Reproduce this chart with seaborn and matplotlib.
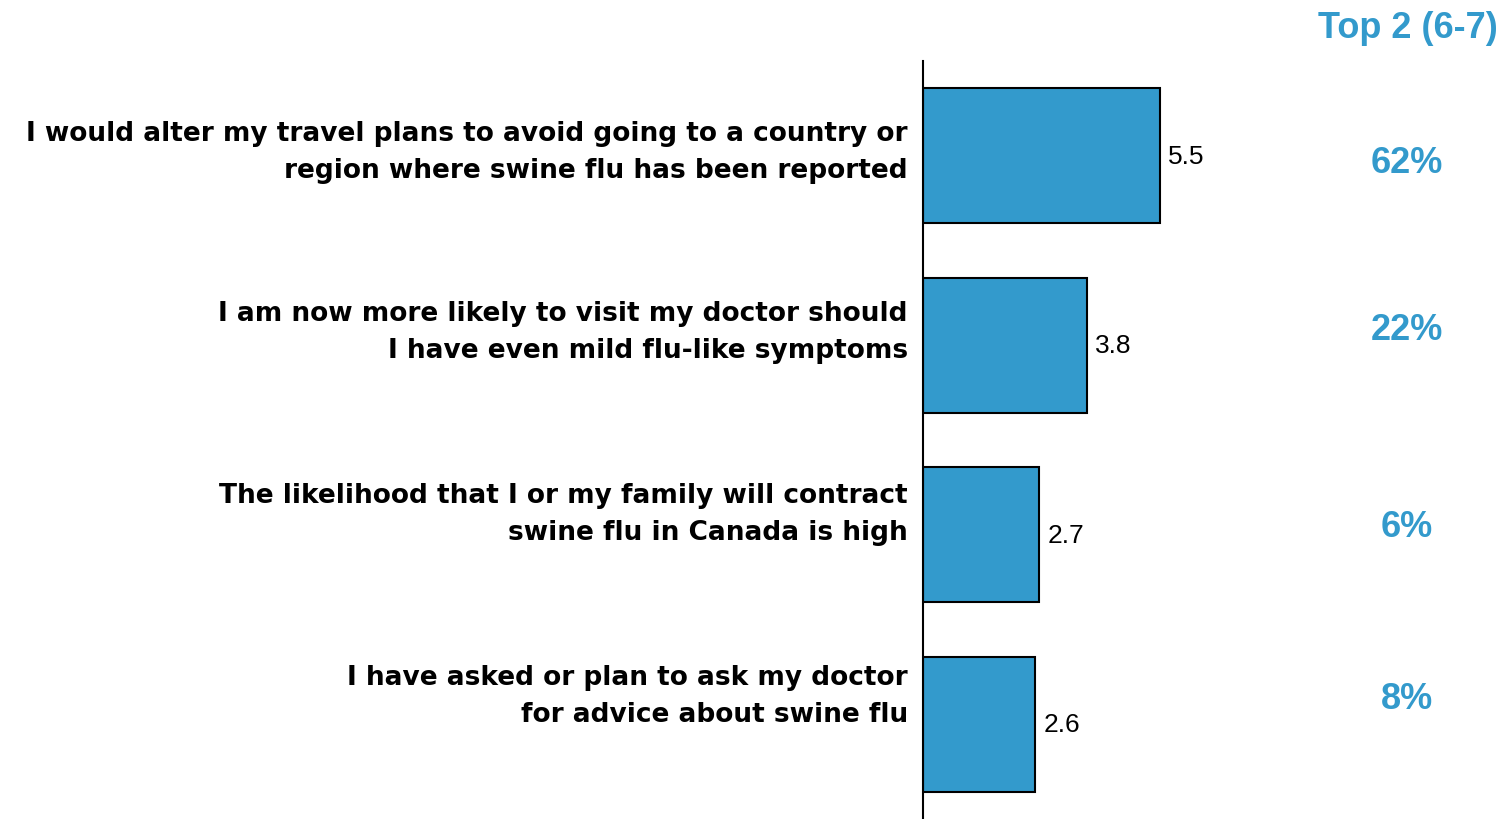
import pandas as pd
import matplotlib.pyplot as plt
import matplotlib.transforms as mtransforms
from matplotlib import font_manager as fm
import seaborn as sns

# --------------------------------
# data
# --------------------------------
statements = [
    "I would alter my travel plans to avoid going to a country or\nregion where swine flu has been reported",
    "I am now more likely to visit my doctor should\nI have even mild flu-like symptoms",
    "The likelihood that I or my family will contract\nswine flu in Canada is high",
    "I have asked or plan to ask my doctor\nfor advice about swine flu",
]
mean_scores = [5.5, 3.8, 2.7, 2.6]
top2_pct = ["62%", "22%", "6%", "8%"]
top2_header = "Top 2 (6-7)"

df = pd.DataFrame({"Statement": statements, "Mean": mean_scores})

# layout tweaks (row offsets in category units)
label_dy = [-0.02, -0.07, -0.11, -0.15]
pct_dy = [0.035, -0.085, -0.045, -0.135]

blue = "#339acc"

sns.set_style("white")
plt.rcParams["font.family"] = ["Liberation Sans", "DejaVu Sans"]


def pick_font(fname, fallback_family, fallback_weight):
    for p in fm.findSystemFonts():
        if p.endswith(fname):
            return fm.FontProperties(fname=p)
    return fm.FontProperties(family=fallback_family, weight=fallback_weight)


bold_fp = pick_font("LiberationSans-Bold.ttf", "Liberation Sans", "bold")
reg_fp = pick_font("LiberationSans-Regular.ttf", "Liberation Sans", "normal")
label_fp = pick_font("DejaVuSans-Bold.ttf", "DejaVu Sans", "bold")

fig = plt.figure(figsize=(15.04, 8.2), dpi=100)
ax = fig.add_axes([923 / 1504, 0.0, 581 / 1504, 1 - 62 / 820])

sns.barplot(data=df, x="Mean", y="Statement", orient="h", color=blue,
            saturation=1, width=0.71, edgecolor="black", linewidth=1.5, ax=ax)

ax.set_xlim(0, 581 / 43.1)
ax.set_ylim(3.5, -0.5)
ax.set_xlabel("")
ax.set_ylabel("")
ax.set_xticks([])
ax.set_yticks([])
for s in ["top", "right", "bottom"]:
    ax.spines[s].set_visible(False)
ax.spines["left"].set_color("black")
ax.spines["left"].set_linewidth(1.5)

# value labels at bar ends
for i, v in enumerate(mean_scores):
    ax.text(v + 0.19, i, f"{v}", va="center", ha="left", fontproperties=reg_fp,
            fontsize=19, color="black")

# statement labels
lab_tr = mtransforms.blended_transform_factory(fig.transFigure, ax.transData)
for i, s in enumerate(statements):
    ax.text(908 / 1504, i + label_dy[i], s, transform=lab_tr, ha="right", va="center",
            fontproperties=label_fp, fontsize=19, linespacing=1.55, color="black")

# Top 2 column
for i, p in enumerate(top2_pct):
    ax.text(1407 / 1504, i + pct_dy[i], p, transform=lab_tr, ha="center", va="center",
            fontproperties=bold_fp, fontsize=26, color=blue)
fig.text(1408 / 1504, 1 - 29 / 820, top2_header, ha="center", va="center",
         fontproperties=bold_fp, fontsize=26, color=blue)

fig.savefig("out.png", dpi=100)
